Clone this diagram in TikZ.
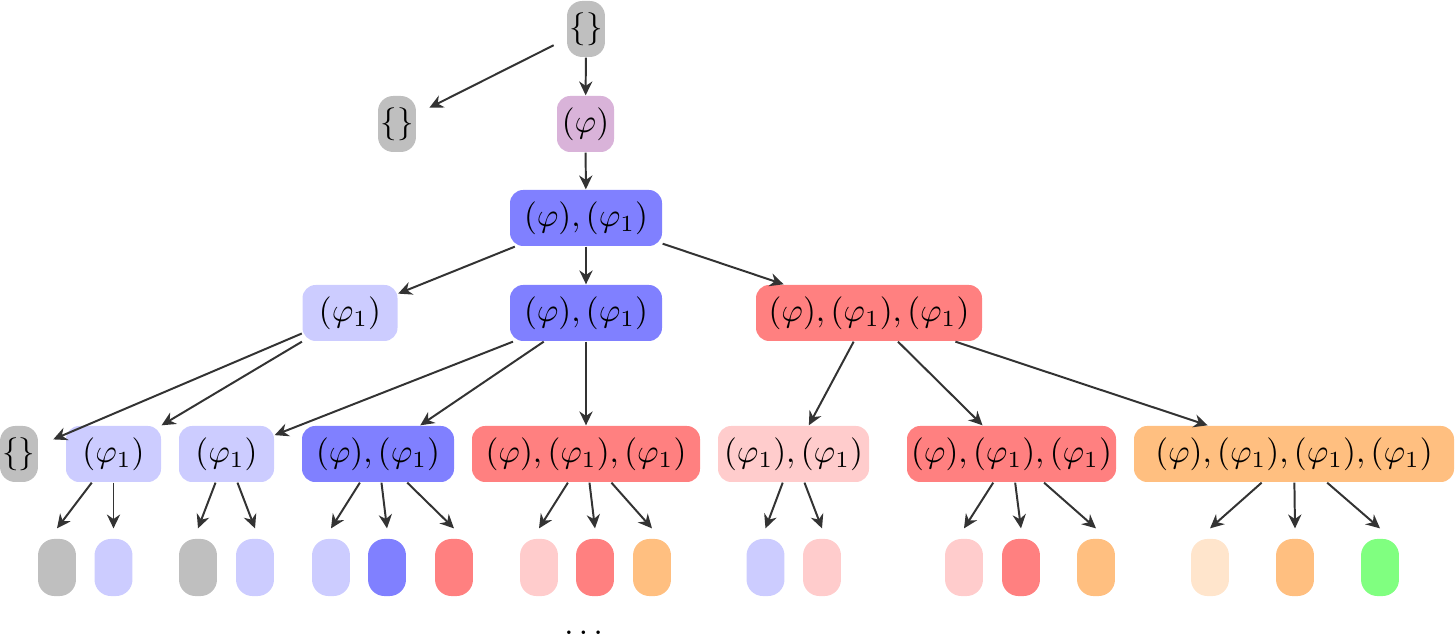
\documentclass[tikz,border=0pt]{standalone}
\usetikzlibrary{arrows.meta}
\definecolor{cgray}{HTML}{BFBFBF}
\definecolor{cpur}{HTML}{D9B3D9}
\definecolor{cblue}{HTML}{8080FF}
\definecolor{clav}{HTML}{CCCCFF}
\definecolor{cred}{HTML}{FF8080}
\definecolor{cpink}{HTML}{FFCCCC}
\definecolor{corange}{HTML}{FFBF80}
\definecolor{clorange}{HTML}{FFE5CC}
\definecolor{cgreen}{HTML}{80FF80}
\definecolor{cline}{HTML}{333333}
\begin{document}
\begin{tikzpicture}[x=0.303pt,y=-0.303pt,
  box/.style={rectangle, rounded corners=4pt, inner sep=0pt, minimum height=16.97pt, text=black},
  wd/.style={minimum width=#1*0.303pt},
  gbox/.style={box, fill=cgray, rounded corners=4.6pt, minimum width=11.5pt},
  pill/.style={rectangle, rounded corners=5pt, inner sep=0pt, minimum width=11.5pt, minimum height=17.3pt},
  arr/.style={draw=cline, line width=0.6pt, -{Stealth[length=4.2pt,width=4pt]}},
  dotsnode/.style={inner sep=0pt, anchor=base}]
\useasboundingbox (0,0) rectangle (1456,636);
% level 0-1
\node[gbox] (r) at (586,29) {$\{\}$};
\node[gbox] (e1) at (397,124) {$\{\}$};
\node[box, fill=cpur, wd=57] (p) at (585.5,124) {$(\varphi)$};
% level 2
\node[box, fill=cblue, wd=152] (l2) at (586,218) {$(\varphi),(\varphi_1)$};
% level 3
\node[box, fill=clav, wd=95] (a3) at (350,313) {$(\varphi_1)$};
\node[box, fill=cblue, wd=152] (b3) at (586,313) {$(\varphi),(\varphi_1)$};
\node[box, fill=cred, wd=226] (c3) at (869,313) {$(\varphi),(\varphi_1),(\varphi_1)$};
% level 4
\node[gbox] (a4) at (19,454) {$\{\}$};
\node[box, fill=clav, wd=95] (b4) at (113.5,454) {$(\varphi_1)$};
\node[box, fill=clav, wd=95] (c4) at (226.5,454) {$(\varphi_1)$};
\node[box, fill=cblue, wd=152] (d4) at (378,454) {$(\varphi),(\varphi_1)$};
\node[box, fill=cred, wd=228] (e4) at (586,454) {$(\varphi),(\varphi_1),(\varphi_1)$};
\node[box, fill=cpink, wd=151] (f4) at (793.5,454) {$(\varphi_1),(\varphi_1)$};
\node[box, fill=cred, wd=209] (g4) at (1011.5,454) {$(\varphi),(\varphi_1),(\varphi_1)$};
\node[box, fill=corange, wd=320] (h4) at (1294,454) {$(\varphi),(\varphi_1),(\varphi_1),(\varphi_1)$};
% level 5 pills
\node[pill, fill=cgray]    (q1)  at (57,567.5) {};
\node[pill, fill=clav]     (q2)  at (113.5,567.5) {};
\node[pill, fill=cgray]    (q3)  at (198,567.5) {};
\node[pill, fill=clav]     (q4)  at (255,567.5) {};
\node[pill, fill=clav]     (q5)  at (331,567.5) {};
\node[pill, fill=cblue]    (q6)  at (387,567.5) {};
\node[pill, fill=cred]     (q7)  at (454,567.5) {};
\node[pill, fill=cpink]    (q8)  at (539,567.5) {};
\node[pill, fill=cred]     (q9)  at (595,567.5) {};
\node[pill, fill=corange]  (q10) at (652,567.5) {};
\node[pill, fill=clav]     (q11) at (765.5,567.5) {};
\node[pill, fill=cpink]    (q12) at (822,567.5) {};
\node[pill, fill=cpink]    (q13) at (964,567.5) {};
\node[pill, fill=cred]     (q14) at (1021,567.5) {};
\node[pill, fill=corange]  (q15) at (1096,567.5) {};
\node[pill, fill=clorange] (q16) at (1210,567.5) {};
\node[pill, fill=corange]  (q17) at (1295,567.5) {};
\node[pill, fill=cgreen]   (q18) at (1380,567.5) {};
\node[dotsnode] (dots) at (583.5,635) {$\dots$};
% arrows
\draw[arr, shorten <=4.3pt, shorten >=4.3pt] (r) -- (e1);
\draw[arr] (r) -- (p);
\draw[arr] (p) -- (l2);
\draw[arr] (l2) -- (a3);
\draw[arr] (l2) -- (b3);
\draw[arr] (l2) -- (c3);
\draw[arr, shorten >=4.8pt] (a3) -- (a4);
\draw[arr] (a3) -- (b4);
\draw[arr] (b3) -- (c4);
\draw[arr] (b3) -- (d4);
\draw[arr] (b3) -- (e4);
\draw[arr] (c3) -- (f4);
\draw[arr] (c3) -- (g4);
\draw[arr] (c3) -- (h4);
\foreach \pa/\ch in {b4/q1,b4/q2,c4/q3,c4/q4,d4/q5,d4/q6,d4/q7,e4/q8,e4/q9,e4/q10,f4/q11,f4/q12,g4/q13,g4/q14,g4/q15,h4/q16,h4/q17,h4/q18}
  \draw[arr] (\pa) -- ([yshift=3pt]\ch.north);
\end{tikzpicture}
\end{document}
